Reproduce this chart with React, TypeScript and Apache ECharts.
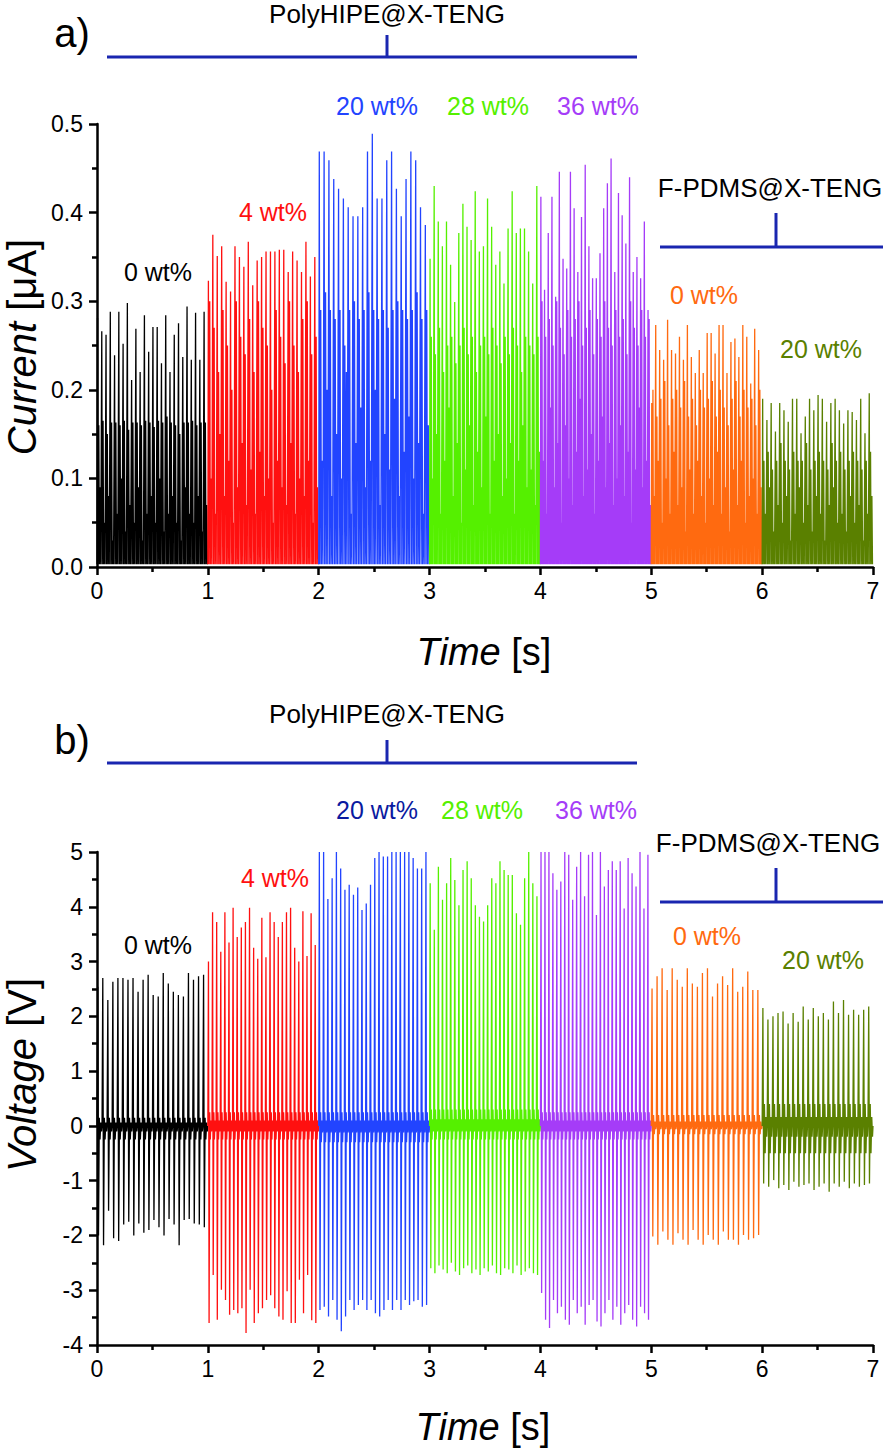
import React, { useEffect, useRef } from "react";
import * as echarts from "echarts";

// ---------- DATA ----------
const segmentLabels = ["0 wt%", "4 wt%", "20 wt%", "28 wt%", "36 wt%", "0 wt%", "20 wt%"];
const segmentColors = ["#000000", "#ff1010", "#2244ff", "#55f000", "#a53cf8", "#ff6a10", "#5a8000"];
const timeTicks = [0, 1, 2, 3, 4, 5, 6, 7];
const currentTicks = [0, 0.1, 0.2, 0.3, 0.4, 0.5];
const voltageTicks = [-4, -3, -2, -1, 0, 1, 2, 3, 4, 5];

// Current [µA]: tall peak of each cycle, per segment
const currentPeaks: number[][] = [
  [0.281, 0.266, 0.262, 0.288, 0.239, 0.288, 0.252, 0.298, 0.211, 0.269, 0.22, 0.284, 0.243, 0.271, 0.271, 0.23, 0.284, 0.22, 0.262, 0.275, 0.237, 0.294, 0.234, 0.287, 0.234, 0.288],
  [0.323, 0.375, 0.351, 0.362, 0.322, 0.311, 0.362, 0.35, 0.339, 0.367, 0.318, 0.346, 0.35, 0.356, 0.356, 0.356, 0.358, 0.358, 0.333, 0.356, 0.346, 0.333, 0.367, 0.328, 0.35],
  [0.469, 0.469, 0.459, 0.438, 0.427, 0.416, 0.406, 0.396, 0.396, 0.406, 0.469, 0.489, 0.416, 0.416, 0.459, 0.469, 0.427, 0.396, 0.438, 0.469, 0.459, 0.406, 0.386],
  [0.348, 0.43, 0.39, 0.362, 0.39, 0.341, 0.299, 0.377, 0.41, 0.384, 0.369, 0.424, 0.356, 0.362, 0.416, 0.384, 0.341, 0.356, 0.32, 0.382, 0.424, 0.377, 0.382, 0.382, 0.356, 0.32, 0.43],
  [0.418, 0.313, 0.377, 0.418, 0.305, 0.446, 0.348, 0.337, 0.446, 0.405, 0.333, 0.395, 0.454, 0.362, 0.326, 0.326, 0.354, 0.405, 0.433, 0.461, 0.333, 0.422, 0.397, 0.365, 0.44, 0.333, 0.35, 0.326, 0.39, 0.29],
  [0.185, 0.273, 0.245, 0.234, 0.279, 0.245, 0.241, 0.26, 0.234, 0.273, 0.237, 0.219, 0.245, 0.219, 0.264, 0.264, 0.241, 0.273, 0.273, 0.219, 0.254, 0.258, 0.237, 0.273, 0.26, 0.207, 0.269, 0.245],
  [0.19, 0.166, 0.185, 0.153, 0.185, 0.177, 0.164, 0.19, 0.19, 0.151, 0.17, 0.19, 0.177, 0.194, 0.19, 0.164, 0.185, 0.19, 0.177, 0.162, 0.177, 0.175, 0.166, 0.19, 0.151, 0.196],
];
// Current: second (medium) peak of each cycle
const currentSecond: number[][] = [
  [0.16, 0.165, 0.15, 0.163, 0.163, 0.16, 0.165, 0.155, 0.163, 0.163, 0.16, 0.165, 0.163, 0.158, 0.165, 0.163, 0.17, 0.163, 0.16, 0.15, 0.163, 0.163, 0.165, 0.16, 0.163, 0.163],
  [0.3, 0.27, 0.22, 0.29, 0.25, 0.2, 0.3, 0.26, 0.24, 0.28, 0.22, 0.3, 0.27, 0.25, 0.2, 0.29, 0.26, 0.23, 0.3, 0.25, 0.22, 0.28, 0.3, 0.24, 0.26],
  [0.29, 0.31, 0.29, 0.28, 0.29, 0.25, 0.29, 0.3, 0.28, 0.29, 0.31, 0.29, 0.28, 0.29, 0.27, 0.29, 0.3, 0.29, 0.28, 0.29, 0.31, 0.28, 0.29],
  [0.26, 0.24, 0.27, 0.22, 0.25, 0.26, 0.23, 0.25, 0.27, 0.24, 0.26, 0.22, 0.25, 0.26, 0.24, 0.27, 0.25, 0.23, 0.26, 0.24, 0.27, 0.25, 0.22, 0.26, 0.25, 0.24, 0.26],
  [0.3, 0.26, 0.28, 0.25, 0.3, 0.27, 0.24, 0.29, 0.26, 0.28, 0.3, 0.25, 0.27, 0.29, 0.24, 0.28, 0.26, 0.3, 0.27, 0.25, 0.29, 0.26, 0.28, 0.24, 0.3, 0.27, 0.25, 0.29, 0.26, 0.28],
  [0.2, 0.17, 0.19, 0.21, 0.16, 0.19, 0.2, 0.18, 0.21, 0.17, 0.19, 0.16, 0.2, 0.18, 0.19, 0.21, 0.17, 0.2, 0.18, 0.16, 0.19, 0.21, 0.17, 0.2, 0.18, 0.19, 0.16, 0.2],
  [0.12, 0.13, 0.11, 0.12, 0.14, 0.12, 0.11, 0.13, 0.12, 0.12, 0.14, 0.11, 0.12, 0.13, 0.12, 0.11, 0.14, 0.12, 0.13, 0.11, 0.12, 0.13, 0.12, 0.11, 0.12, 0.13],
];
// Current: small peak of each cycle
const currentSmall: number[][] = [
  [0.09, 0.05, 0.08, 0.03, 0.06, 0.1, 0.04, 0.07, 0.05, 0.09, 0.03, 0.06, 0.08, 0.05, 0.1, 0.04, 0.06, 0.08, 0.05, 0.03, 0.09, 0.06, 0.05, 0.08, 0.04, 0.07],
  [0.1, 0.06, 0.15, 0.08, 0.12, 0.05, 0.09, 0.14, 0.07, 0.11, 0.06, 0.13, 0.08, 0.1, 0.05, 0.12, 0.09, 0.07, 0.14, 0.06, 0.1, 0.08, 0.12, 0.05, 0.09],
  [0.12, 0.2, 0.08, 0.15, 0.1, 0.22, 0.06, 0.14, 0.18, 0.09, 0.12, 0.2, 0.07, 0.15, 0.11, 0.19, 0.08, 0.13, 0.17, 0.1, 0.14, 0.06, 0.16],
  [0.1, 0.15, 0.06, 0.12, 0.18, 0.08, 0.14, 0.05, 0.11, 0.16, 0.07, 0.13, 0.09, 0.17, 0.06, 0.12, 0.15, 0.08, 0.1, 0.14, 0.06, 0.12, 0.16, 0.09, 0.11, 0.07, 0.13],
  [0.12, 0.06, 0.18, 0.09, 0.14, 0.05, 0.16, 0.1, 0.07, 0.13, 0.19, 0.08, 0.11, 0.15, 0.06, 0.12, 0.17, 0.09, 0.14, 0.07, 0.1, 0.16, 0.08, 0.13, 0.05, 0.11, 0.18, 0.09, 0.12, 0.07],
  [0.08, 0.12, 0.05, 0.1, 0.06, 0.13, 0.07, 0.09, 0.04, 0.11, 0.06, 0.12, 0.08, 0.05, 0.1, 0.07, 0.13, 0.06, 0.09, 0.04, 0.11, 0.07, 0.12, 0.05, 0.08, 0.1, 0.06, 0.09],
  [0.06, 0.09, 0.04, 0.07, 0.05, 0.08, 0.03, 0.06, 0.09, 0.05, 0.07, 0.04, 0.08, 0.06, 0.03, 0.07, 0.09, 0.05, 0.06, 0.04, 0.08, 0.05, 0.07, 0.03, 0.06, 0.08],
];

// Voltage [V]: positive and negative peak of each cycle
const voltagePos: number[][] = [
  [2.54, 2.7, 2.3, 2.63, 2.7, 2.7, 2.67, 2.7, 2.45, 2.67, 2.76, 2.39, 2.36, 2.79, 2.6, 2.45, 2.39, 2.36, 2.79, 2.67, 2.73, 2.76],
  [3.0, 3.9, 3.72, 3.18, 3.9, 3.35, 3.98, 3.45, 3.62, 3.72, 3.98, 3.25, 3.05, 3.8, 3.08, 3.9, 3.72, 3.45, 3.72, 3.9, 3.98, 3.25, 3.0, 3.92, 3.1, 3.88, 3.3],
  [5.0, 5.0, 4.14, 4.52, 5.0, 4.7, 4.31, 4.4, 4.22, 4.35, 3.94, 4.06, 4.4, 4.89, 5.0, 4.92, 4.92, 5.0, 5.0, 5.0, 5.0, 5.0, 4.89, 4.7, 4.7, 5.0],
  [4.43, 3.58, 4.73, 4.13, 4.43, 4.89, 4.49, 4.03, 4.67, 4.83, 4.52, 4.03, 3.82, 3.73, 4.03, 4.52, 4.43, 4.83, 4.67, 4.58, 4.58, 3.88, 3.67, 4.52, 5.0, 4.43, 4.19],
  [5.0, 5.0, 5.0, 4.61, 4.31, 4.46, 5.0, 4.95, 4.13, 4.73, 5.0, 4.19, 4.95, 5.0, 3.85, 5.0, 4.37, 4.67, 4.83, 4.67, 4.83, 3.97, 4.89, 4.61, 4.37, 5.0, 3.97, 4.95],
  [2.51, 2.73, 2.88, 2.48, 2.88, 2.67, 2.54, 2.88, 2.6, 2.54, 2.79, 2.88, 2.36, 2.6, 2.73, 2.57, 2.88, 2.45, 2.54, 2.82, 2.48, 2.48],
  [2.15, 1.94, 2.0, 2.06, 2.09, 1.87, 2.06, 1.9, 2.18, 1.94, 2.15, 2.0, 2.06, 1.94, 2.27, 2.06, 2.3, 2.03, 2.12, 2.03, 2.12, 2.18],
];
const voltageNeg: number[][] = [
  [-2.0, -2.18, -1.55, -2.05, -2.1, -1.8, -1.75, -2.0, -1.78, -1.95, -1.9, -1.72, -1.85, -2.0, -1.7, -1.8, -2.18, -1.72, -1.7, -1.78, -1.8, -1.85],
  [-3.6, -2.72, -3.54, -2.99, -3.18, -3.45, -3.36, -3.42, -3.33, -3.78, -2.99, -3.6, -3.42, -3.33, -3.18, -3.09, -3.33, -3.48, -3.54, -3.02, -3.6, -3.6, -2.81, -3.42, -2.72, -3.55, -3.6],
  [-3.36, -3.3, -3.48, -3.18, -3.54, -3.75, -3.48, -3.18, -3.36, -3.27, -3.18, -3.36, -3.18, -3.42, -3.48, -3.36, -3.18, -3.36, -3.18, -3.36, -3.18, -3.27, -3.2, -3.18, -3.3, -3.27],
  [-2.6, -2.69, -2.55, -2.62, -2.69, -2.5, -2.66, -2.72, -2.6, -2.55, -2.69, -2.62, -2.72, -2.6, -2.66, -2.55, -2.69, -2.72, -2.6, -2.62, -2.69, -2.55, -2.72, -2.66, -2.6, -2.69, -2.72],
  [-3.05, -3.54, -3.69, -3.18, -3.42, -3.3, -3.54, -3.63, -3.18, -3.42, -3.3, -3.63, -3.27, -3.18, -3.57, -3.66, -3.42, -3.18, -3.54, -3.3, -3.63, -3.42, -3.27, -3.54, -3.66, -3.3, -3.42, -3.54],
  [-2.02, -2.17, -1.93, -2.08, -2.17, -1.96, -2.08, -2.17, -1.9, -2.08, -2.17, -1.99, -2.08, -2.17, -1.93, -2.08, -2.08, -2.17, -1.99, -2.08, -2.05, -1.99],
  [-1.05, -1.11, -0.99, -1.14, -1.08, -1.17, -1.02, -1.11, -1.08, -1.05, -1.17, -1.11, -1.05, -1.2, -1.05, -1.11, -1.02, -1.14, -1.05, -1.11, -1.08, -1.05],
];
// Voltage: ripple band around zero between pulses [upper, lower]
const voltageRipple: number[][] = [
  [0.15, -0.25], [0.25, -0.25], [0.25, -0.3], [0.3, -0.25], [0.25, -0.25], [0.2, -0.15], [0.4, -0.5],
];

// ---------- BUILD ----------
const FONT = '"Liberation Sans", Arial, Helvetica, sans-serif';
const BRACKET = "#1a26b0";

function currentData(s: number) {
  const pk = currentPeaks[s], sc = currentSecond[s], sm = currentSmall[s];
  const n = pk.length, dt = 1 / n, b = 0.003;
  const d: number[][] = [];
  for (let i = 0; i < n; i++) {
    const t0 = s + i * dt;
    d.push([t0, b], [t0 + 0.12 * dt, pk[i]], [t0 + 0.24 * dt, b], [t0 + 0.42 * dt, sc[i]], [t0 + 0.56 * dt, b], [t0 + 0.74 * dt, sm[i]], [t0 + 0.88 * dt, b]);
  }
  d.push([s + 1, b]);
  return d;
}

function voltageData(s: number) {
  const p = voltagePos[s], q = voltageNeg[s], r = voltageRipple[s];
  const n = p.length, dt = 1 / n;
  const d: number[][] = [];
  for (let i = 0; i < n; i++) {
    const t0 = s + i * dt;
    d.push([t0, 0], [t0 + 0.15 * dt, p[i]], [t0 + 0.3 * dt, q[i]], [t0 + 0.45 * dt, r[0]], [t0 + 0.6 * dt, r[1]], [t0 + 0.75 * dt, r[0] * 0.4], [t0 + 0.9 * dt, r[1] * 0.4]);
  }
  d.push([s + 1, 0]);
  return d;
}

function xAxisCfg(gridIndex: number) {
  return {
    gridIndex, type: "value", min: 0, max: 7, interval: 1,
    axisLine: { show: true, onZero: false, lineStyle: { color: "#000", width: 2.5 } },
    axisTick: { show: true, inside: false, length: 8, lineStyle: { color: "#000", width: 2.5 } },
    minorTick: { show: true, splitNumber: 2, length: 5, lineStyle: { color: "#000", width: 2.5 } },
    splitLine: { show: false },
    axisLabel: { color: "#000", fontSize: 23, fontFamily: FONT, margin: 12, formatter: (v: number) => (timeTicks.includes(v) ? String(v) : "") },
  };
}

function yAxisCfg(gridIndex: number, ticks: number[], dec: number) {
  return {
    gridIndex, type: "value", min: ticks[0], max: ticks[ticks.length - 1], interval: ticks[1] - ticks[0],
    axisLine: { show: true, onZero: false, lineStyle: { color: "#000", width: 2.5 } },
    axisTick: { show: true, inside: false, length: 8, lineStyle: { color: "#000", width: 2.5 } },
    minorTick: { show: true, splitNumber: 2, length: 5, lineStyle: { color: "#000", width: 2.5 } },
    splitLine: { show: false },
    axisLabel: { color: "#000", fontSize: 23, fontFamily: FONT, margin: 14, formatter: (v: number) => v.toFixed(dec) },
  };
}

function txt(x: number, y: number, text: string, size: number, fill = "#000") {
  return {
    type: "text", x, y, silent: true,
    style: { text, fill, fontSize: size, fontFamily: FONT, align: "center", verticalAlign: "middle", textAlign: "center", textVerticalAlign: "middle" },
  };
}
function ln(x1: number, y1: number, x2: number, y2: number) {
  return { type: "line", silent: true, shape: { x1, y1, x2, y2 }, style: { stroke: BRACKET, lineWidth: 3 } };
}
function italicTitle(x: number, y: number, it: string, rest: string, size: number, rot = 0) {
  return {
    type: "text", x, y, rotation: rot, silent: true,
    style: {
      text: `{i|${it}}{n|${rest}}`, fill: "#000", fontSize: size, fontFamily: FONT,
      align: "center", verticalAlign: "middle", textAlign: "center", textVerticalAlign: "middle",
      rich: { i: { fontStyle: "italic", fontSize: size, fontFamily: FONT, fill: "#000" }, n: { fontSize: size, fontFamily: FONT, fill: "#000" } },
    },
  };
}

const topLabelPos = [[158, 272], [273, 212], [377, 106], [488, 106], [598, 106], [704, 295], [821, 349]];
const botLabelPos = [[158, 945], [275, 878], [377, 810], [482, 810], [596, 810], [707, 936], [823, 960]];
const botLabelColors = ["#000000", "#ff1010", "#0a1aa0", "#55f000", "#a53cf8", "#ff6a10", "#5a8000"];

export default function App() {
  const ref = useRef<HTMLDivElement>(null);
  useEffect(() => {
    if (!ref.current) return;
    const chart = echarts.init(ref.current, null, { renderer: "svg" });
    const series: any[] = [];
    segmentLabels.forEach((_, s) => {
      series.push({ type: "line", xAxisIndex: 0, yAxisIndex: 0, data: currentData(s), showSymbol: false, symbol: "none", clip: true, silent: true, lineStyle: { color: segmentColors[s], width: 1.3 } });
      series.push({ type: "line", xAxisIndex: 1, yAxisIndex: 1, data: voltageData(s), showSymbol: false, symbol: "none", clip: true, silent: true, lineStyle: { color: segmentColors[s], width: 1.3 } });
    });
    const graphic: any[] = [
      txt(72, 33, "a)", 40),
      txt(387, 14, "PolyHIPE@X-TENG", 26),
      ln(107, 57, 637, 57), ln(387, 35, 387, 57),
      txt(770, 188, "F-PDMS@X-TENG", 26),
      ln(660, 247, 883, 247), ln(776, 213, 776, 247),
      italicTitle(484, 652, "Time", " [s]", 38),
      italicTitle(22, 347, "Current", " [μA]", 40, Math.PI / 2),
      txt(72, 740, "b)", 40),
      txt(387, 714, "PolyHIPE@X-TENG", 26),
      ln(107, 763, 637, 763), ln(387, 740, 387, 763),
      txt(768, 843, "F-PDMS@X-TENG", 26),
      ln(660, 902, 883, 902), ln(776, 868, 776, 902),
      italicTitle(483, 1427, "Time", " [s]", 38),
      italicTitle(22, 1075, "Voltage", " [V]", 40, Math.PI / 2),
    ];
    segmentLabels.forEach((lab, s) => {
      graphic.push(txt(topLabelPos[s][0], topLabelPos[s][1], lab, 25, segmentColors[s]));
      graphic.push(txt(botLabelPos[s][0], botLabelPos[s][1], lab, 25, botLabelColors[s]));
    });
    chart.setOption({
      animation: false,
      backgroundColor: "#ffffff",
      grid: [
        { left: 97, right: 13, top: 124, height: 443 },
        { left: 97, right: 13, top: 852, height: 493 },
      ],
      xAxis: [xAxisCfg(0), xAxisCfg(1)],
      yAxis: [yAxisCfg(0, currentTicks, 1), yAxisCfg(1, voltageTicks, 0)],
      series,
      graphic,
    });
    return () => chart.dispose();
  }, []);
  return <div ref={ref} style={{ position: "absolute", left: 0, top: 0, width: 886, height: 1450 }} />;
}
